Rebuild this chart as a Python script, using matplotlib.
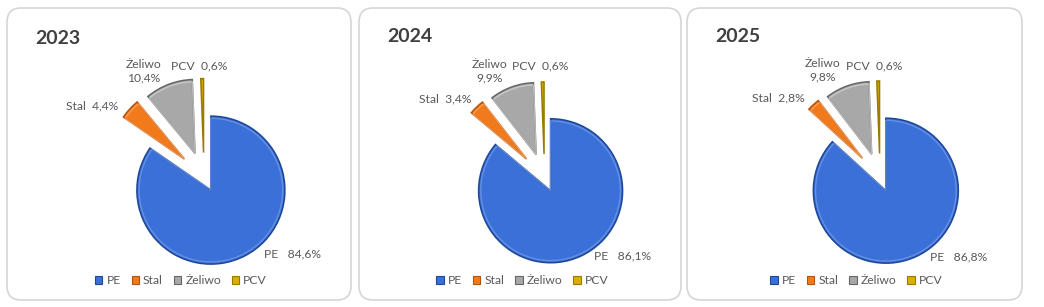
import matplotlib
matplotlib.use("Agg")
import matplotlib.pyplot as plt
from matplotlib.patches import FancyBboxPatch, Patch, Wedge

plt.rcParams['font.family'] = ['Lato', 'DejaVu Sans']

# data
years = ["2023", "2024", "2025"]
materials = ["PE", "Stal", "Żeliwo", "PCV"]
share_2023 = [84.6, 4.4, 10.4, 0.6]
share_2024 = [86.1, 3.4, 9.9, 0.6]
share_2025 = [86.8, 2.8, 9.8, 0.6]
shares = [share_2023, share_2024, share_2025]

colors = ["#3b70d8", "#f27a1a", "#a8a8a8", "#dcae00"]
edges = ["#1d4797", "#b5520c", "#666666", "#9a7a00"]
lights = ["#6f98e6", "#f8a560", "#cfcfcf", "#f0d050"]
explode = [0.2, 0.36, 0.34, 0.33]   # fraction of radius

W, H = 1044, 307
fig = plt.figure(figsize=(W / 100, H / 100), dpi=100)
fig.patch.set_facecolor("white")

def fy(y):
    # image pixel row -> y-up figure pixel
    return H - y

# panel boxes (image pixel coords: left, right)
panels = [(7, 351), (359, 681), (687, 1022)]
top, bottom = 8, 300

bg = fig.add_axes([0, 0, 1, 1])
bg.set_xlim(0, W)
bg.set_ylim(0, H)
bg.axis("off")
for l, r in panels:
    box = FancyBboxPatch((l, fy(bottom)), r - l, bottom - top,
                         boxstyle="round,pad=0,rounding_size=14",
                         facecolor="white", edgecolor="#d6d6d6", lw=1.2)
    bg.add_patch(box)

# layout per panel (image pixel coords)
pie_centers = [(204, 177), (544.5, 177.7), (880, 177.4)]
radii = [74, 72, 72.5]
title_pos = [(35, 38), (387, 37), (715, 37)]
zel_pos = [(144, 71.5), (489.5, 71), (823, 70.5)]
pcv_pos = [(199.5, 66), (540.5, 66), (874.5, 66)]
stal_pos = [(92, 106), (445, 99), (778, 98)]
pe_pos = [(293, 254), (622.5, 256), (958.5, 257)]
leg_pos = [(181, 281), (522.5, 281), (856.5, 281)]

lab_col = "#595959"
lab_size = 8.7

def fmt(v):
    return ("%.1f" % v).replace(".", ",") + "%"

for i in range(3):
    ax = fig.add_axes([0, 0, 1, 1])
    ax.patch.set_alpha(0)
    cx, cy = pie_centers[i]
    r = radii[i]
    wedges, _ = ax.pie(shares[i], colors=colors, explode=[e * r for e in explode],
                       startangle=90, counterclock=False,
                       radius=r, center=(cx, fy(cy)), frame=True,
                       wedgeprops=dict(linewidth=1.1))
    for w, ec, lc in zip(wedges, edges, lights):
        w.set_edgecolor(ec)
        # bevel highlight just inside the rim
        if w.theta2 - w.theta1 > 5:
            inner = Wedge(w.center, w.r - 2.2, w.theta1, w.theta2,
                          fill=False, edgecolor=lc, lw=1.0, alpha=0.8)
            ax.add_patch(inner)
    ax.set_xlim(0, W)
    ax.set_ylim(0, H)
    ax.set_aspect("auto")
    ax.axis("off")

    s = shares[i]
    ax.text(title_pos[i][0], fy(title_pos[i][1]), years[i], fontsize=14,
            fontweight="bold", color="#404040", ha="left", va="center")
    ax.text(zel_pos[i][0], fy(zel_pos[i][1]), materials[2] + "\n" + fmt(s[2]),
            fontsize=lab_size, color=lab_col, ha="center", va="center",
            linespacing=1.3)
    ax.text(pcv_pos[i][0], fy(pcv_pos[i][1]), materials[3] + "  " + fmt(s[3]),
            fontsize=lab_size, color=lab_col, ha="center", va="center")
    ax.text(stal_pos[i][0], fy(stal_pos[i][1]), materials[1] + "  " + fmt(s[1]),
            fontsize=lab_size, color=lab_col, ha="center", va="center")
    ax.text(pe_pos[i][0], fy(pe_pos[i][1]), materials[0] + "   " + fmt(s[0]),
            fontsize=lab_size, color=lab_col, ha="center", va="center")

    handles = [Patch(facecolor=c, edgecolor=e, lw=0.8) for c, e in zip(colors, edges)]
    ax.legend(handles, materials, loc="center", ncol=4,
              bbox_to_anchor=(leg_pos[i][0], fy(leg_pos[i][1])),
              bbox_transform=ax.transData, frameon=False,
              fontsize=8.7, labelcolor=lab_col,
              handlelength=0.6, handleheight=0.6, handletextpad=0.35,
              columnspacing=0.9, borderpad=0, borderaxespad=0)

fig.savefig("out.png", dpi=100, facecolor="white")
